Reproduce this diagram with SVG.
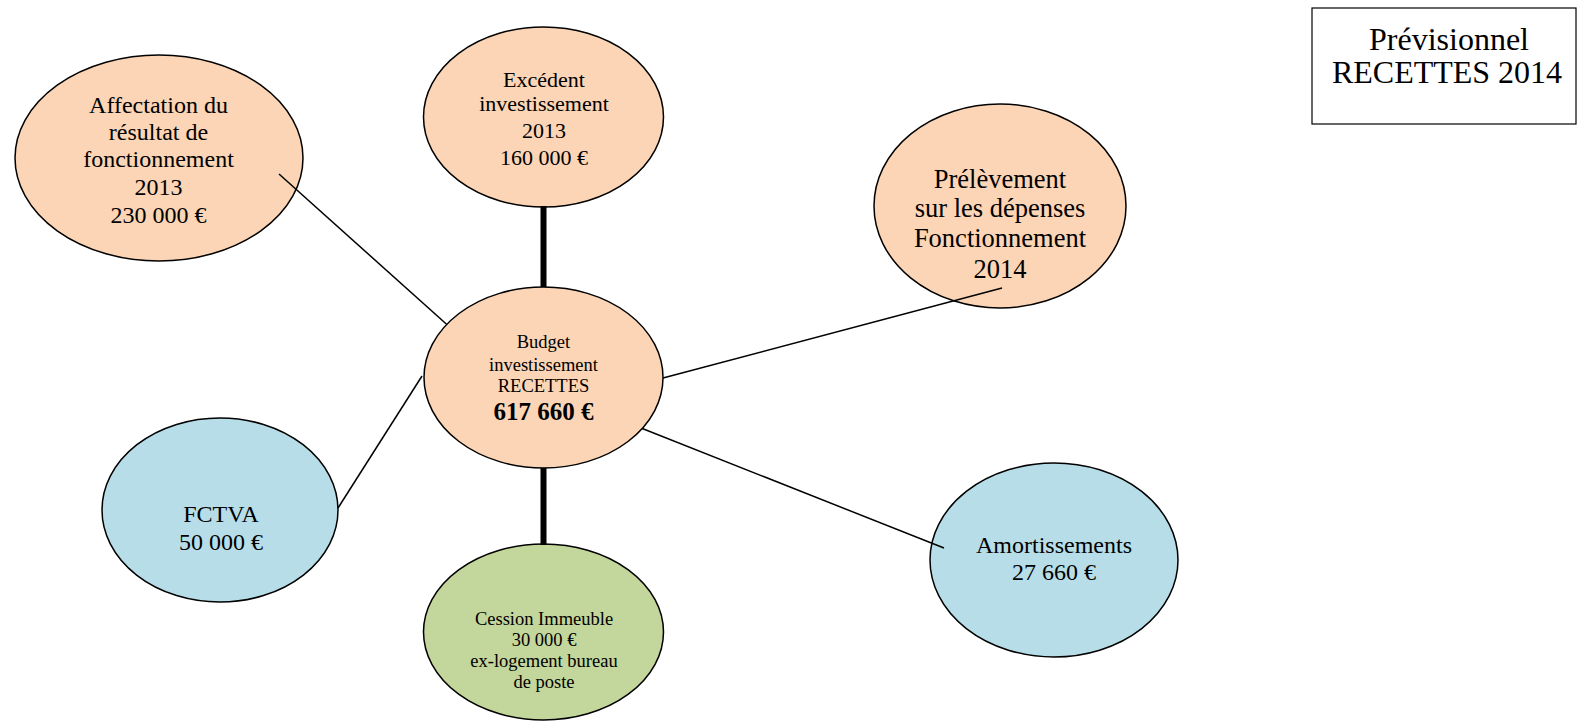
<svg xmlns="http://www.w3.org/2000/svg" width="1584" height="726" viewBox="0 0 1584 726">
<style>
.n{stroke:#000;stroke-width:1.5}
.o{fill:#FBD5B5}
.b{fill:#B7DEE8}
.g{fill:#C3D69B}
text{font-family:"Liberation Serif","Times New Roman",serif;fill:#000;text-anchor:middle}
.c line{stroke:#000;stroke-width:1.5}
.c line.t{stroke-width:6}
</style>
<rect width="1584" height="726" fill="#fff"/>
<g id="title">
<rect x="1312" y="8" width="264" height="116" fill="#fff" stroke="#000" stroke-width="1.2"/>
<text x="1449" y="50" font-size="32">Prévisionnel</text>
<text x="1447" y="83" font-size="32">RECETTES 2014</text>
</g>
<g id="affectation">
<ellipse class="n o" cx="159" cy="158" rx="144" ry="103"/>
<text font-size="24"><tspan x="158.5" y="113">Affectation du</tspan><tspan x="158.5" y="140">résultat de</tspan><tspan x="158.5" y="167">fonctionnement</tspan><tspan x="158.5" y="195">2013</tspan><tspan x="158.5" y="223">230 000 €</tspan></text>
</g>
<g id="excedent">
<ellipse class="n o" cx="543.5" cy="117" rx="120" ry="90"/>
<text font-size="22"><tspan x="544" y="87">Excédent</tspan><tspan x="544" y="111">investissement</tspan><tspan x="544" y="138">2013</tspan><tspan x="544" y="165">160 000  €</tspan></text>
</g>
<g id="prelevement">
<ellipse class="n o" cx="1000" cy="206" rx="126" ry="102"/>
<text font-size="26.5"><tspan x="1000" y="188">Prélèvement</tspan><tspan x="1000" y="217">sur les dépenses</tspan><tspan x="1000" y="247">Fonctionnement</tspan><tspan x="1000" y="278">2014</tspan></text>
</g>
<g id="fctva">
<ellipse class="n b" cx="220" cy="510" rx="118" ry="92"/>
<text font-size="24"><tspan x="221" y="522">FCTVA</tspan><tspan x="221" y="550">50 000 €</tspan></text>
</g>
<g id="cession">
<ellipse class="n g" cx="543.5" cy="632" rx="120" ry="88"/>
<text font-size="18.5"><tspan x="544" y="625">Cession Immeuble</tspan><tspan x="544" y="646">30 000 €</tspan><tspan x="544" y="667">ex-logement bureau</tspan><tspan x="544" y="688">de poste</tspan></text>
</g>
<g id="amortissements">
<ellipse class="n b" cx="1054" cy="560" rx="124" ry="97"/>
<text font-size="24"><tspan x="1054" y="553">Amortissements</tspan><tspan x="1054" y="580">27 660 €</tspan></text>
</g>
<g class="c" id="connectors">
<line class="t" x1="543.5" y1="206" x2="543.5" y2="289"/>
<line class="t" x1="543.5" y1="467" x2="543.5" y2="545"/>
<line x1="279" y1="174" x2="453" y2="330"/>
<line x1="663" y1="378" x2="1002" y2="288"/>
<line x1="338" y1="508" x2="422" y2="376"/>
<line x1="641" y1="428" x2="944" y2="548"/>
</g>
<g id="budget">
<ellipse class="n o" cx="543.5" cy="377.5" rx="119.5" ry="90.5"/>
<text font-size="18.5"><tspan x="543.5" y="348">Budget</tspan><tspan x="543.5" y="371">investissement</tspan><tspan x="543.5" y="392">RECETTES</tspan></text>
<text x="543.5" y="420" font-size="25" font-weight="bold">617 660 €</text>
</g>
</svg>
